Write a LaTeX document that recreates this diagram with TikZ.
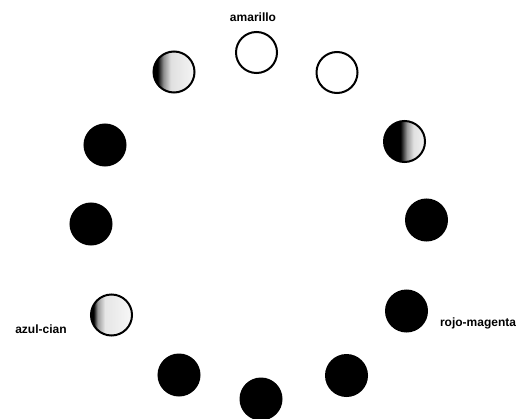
\documentclass[tikz,border=0pt]{standalone}
\usepackage{fontspec}
\setmainfont{Liberation Sans}
\usepackage{tikz}
\usetikzlibrary{calc,positioning}

\pgfdeclarehorizontalshading{darkedge}{100bp}{color(0bp)=(black); color(30bp)=(black); color(37bp)=(black!45); color(46bp)=(black!12); color(75bp)=(black!4); color(100bp)=(white)}
\pgfdeclarehorizontalshading{darkhalf}{100bp}{color(0bp)=(black); color(45bp)=(black); color(53bp)=(black!40); color(61bp)=(black!12); color(75bp)=(black!5); color(100bp)=(white)}
\pgfdeclarehorizontalshading{darksliver}{100bp}{color(0bp)=(black); color(28bp)=(black); color(33bp)=(black!40); color(42bp)=(black!10); color(75bp)=(black!3); color(100bp)=(white)}

\tikzset{
    disc/.style={circle, draw=black, line width=1pt, minimum size=20.5pt, inner sep=0pt},
    hollow/.style={disc, fill=white},
    solid/.style={disc, fill=black},
    halfdark/.style={disc, shade, shading=darkhalf},
    lightdark/.style={disc, shade, shading=darkedge},
    thindark/.style={disc, shade, shading=darksliver},
    colorname/.style={font=\fontsize{6}{7}\selectfont\bfseries, inner sep=0pt}
}

\begin{document}
\begin{tikzpicture}[x=0.5pt,y=0.5pt]
    \useasboundingbox (0,0) rectangle (528,418);

    % ring of discs
    \node[hollow]    (amarillo) at (256.5,365.5) {};
    \node[hollow]    (topright) at (337,345.5) {};
    \node[lightdark] (topleft)  at (174,346) {};
    \node[halfdark]  (rightup)  at (404.5,276.5) {};
    \node[solid]     (leftup)   at (105,273) {};
    \node[solid]     (rightmid) at (426.5,198) {};
    \node[solid]     (leftmid)  at (91,194) {};
    \node[thindark]  (cian)     at (111.5,103) {};
    \node[solid]     (magenta)  at (406.5,107) {};
    \node[solid]     (lowleft)  at (179,43) {};
    \node[solid]     (lowright) at (346.5,42.5) {};
    \node[solid]     (bottom)   at (261,19) {};

    % labels
    \node[colorname] (amarilloname) at (253,401) {amarillo};
    \node[colorname] (cianname)     at (41,89) {azul-cian};
    \node[colorname] (magentaname)  at (478,95) {rojo-magenta};
\end{tikzpicture}
\end{document}
